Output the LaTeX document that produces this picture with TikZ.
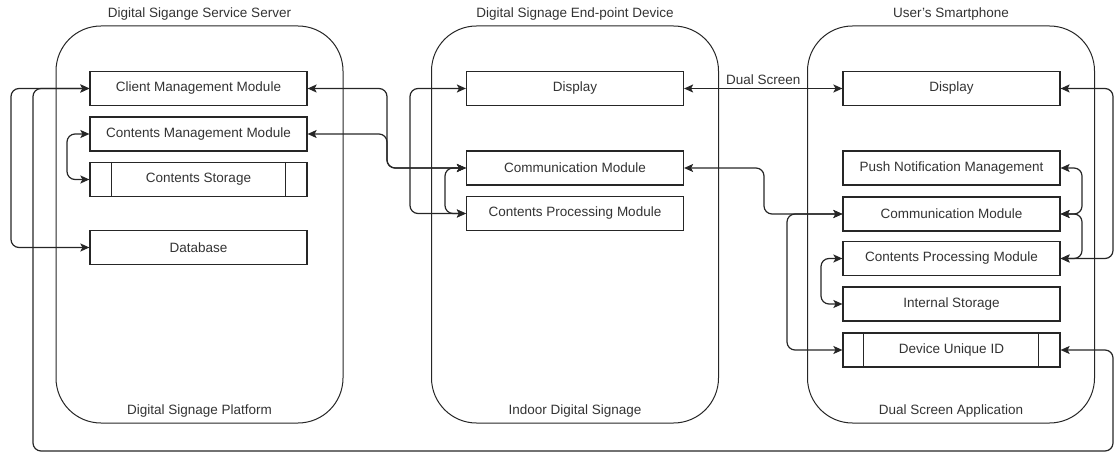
\documentclass[tikz,border=0pt]{standalone}
\usepackage{fontspec}
\setmainfont{Liberation Sans}
\usetikzlibrary{arrows.meta}
\begin{document}
\begin{tikzpicture}[x=1pt,y=-1pt,
  every node/.style={font=\fontsize{13.5}{15}\selectfont, text=black!80},
  modbox/.style={draw=black!85, line width=1.2pt, rectangle, minimum width=217pt, minimum height=34pt, inner sep=0pt, fill=white},
  container/.style={draw=black!85, line width=1pt, rectangle, rounded corners=45pt, minimum width=287pt, minimum height=397pt, inner sep=0pt},
  conn/.style={draw=black!85, line width=1.2pt, rounded corners=8pt, {Stealth[length=9pt,width=8pt,inset=2pt]}-{Stealth[length=9pt,width=8pt,inset=2pt]}},
  lbl/.style={inner sep=0pt}
]
\useasboundingbox (0,0) rectangle (1116,454);

% containers
\node[container] (cL) at (199.5,224.5) {};
\node[container] (cM) at (575,224.5) {};
\node[container] (cR) at (951,224.5) {};

\node[lbl] (tL) at (199.5,14) {Digital Sigange Service Server};
\node[lbl] (tM) at (575,14) {Digital Signage End-point Device};
\node[lbl] (tR) at (951,14) {User's Smartphone};
\node[lbl] (bL) at (199.5,411) {Digital Signage Platform};
\node[lbl] (bM) at (575,411) {Indoor Digital Signage};
\node[lbl] (bR) at (951,411) {Dual Screen Application};

% helper coordinates
\coordinate (xa) at (11,0);
\coordinate (xl) at (33,0);
\coordinate (xcs) at (67,0);
\coordinate (xm1) at (387,0);
\coordinate (xm2) at (410,0);
\coordinate (xm3) at (445,0);
\coordinate (xr1) at (764,0);
\coordinate (xr2) at (787,0);
\coordinate (xr3) at (821,0);
\coordinate (xr4) at (1082,0);
\coordinate (xr) at (1113,0);
\coordinate (yb) at (0,451);

% left modules
\node[modbox] (cmm) at (198.5,88.5) {Client Management Module};
\node[modbox] (ctm) at (198.5,134) {Contents Management Module};
\node[modbox] (cst) at (198.5,179.5) {Contents Storage};
\draw[black!85, line width=1.2pt] ([xshift=22pt]cst.north west) -- ([xshift=22pt]cst.south west)
  ([xshift=-22pt]cst.north east) -- ([xshift=-22pt]cst.south east);
\node[modbox] (db) at (198.5,247.5) {Database};

% middle modules
\node[modbox] (mdisp) at (575,88.5) {Display};
\node[modbox] (mcomm) at (575,168) {Communication Module};
\node[modbox] (mcpm) at (575,213.5) {Contents Processing Module};

% right modules
\node[modbox] (rdisp) at (951.5,88.5) {Display};
\node[modbox] (push) at (951.5,168) {Push Notification Management};
\node[modbox] (rcomm) at (951.5,214) {Communication Module};
\node[modbox] (rcpm) at (951.5,258.5) {Contents Processing Module};
\node[modbox] (ist) at (951.5,304) {Internal Storage};
\node[modbox] (duid) at (951.5,350) {Device Unique ID};
\draw[black!85, line width=1.2pt] ([xshift=21pt]duid.north west) -- ([xshift=21pt]duid.south west)
  ([xshift=-22pt]duid.north east) -- ([xshift=-22pt]duid.south east);

% connectors
\draw[conn] (cmm.west) -- (cmm.west -| xa) -- (db.west -| xa) -- (db.west);
\draw[conn] (duid.east) -- (duid.east -| xr) -- (xr |- yb) -- (xl |- yb) -- (cmm.west -| xl) -- (cmm.west);
\draw[conn] (ctm.west) -- (ctm.west -| xcs) -- (cst.west -| xcs) -- (cst.west);
\draw[conn] (cmm.east) -- (cmm.east -| xm1) -- (mcomm.west -| xm1) -- (mcomm.west);
\draw[conn] (ctm.east) -- (ctm.east -| xm1) -- (mcomm.west -| xm1) -- (mcomm.west);
\draw[conn] (mdisp.west) -- (mdisp.west -| xm2) -- (mcpm.west -| xm2) -- (mcpm.west);
\draw[conn] (mcomm.west) -- (mcomm.west -| xm3) -- (mcpm.west -| xm3) -- (mcpm.west);
\draw[conn] (mdisp.east) -- node[above=3pt, lbl] (ds) {Dual Screen} (rdisp.west);
\draw[conn] (mcomm.east) -- (mcomm.east -| xr1) -- (rcomm.west -| xr1) -- (rcomm.west);
\draw[conn] (rcomm.west) -- (rcomm.west -| xr2) -- (duid.west -| xr2) -- (duid.west);
\draw[conn] (rcpm.west) -- (rcpm.west -| xr3) -- (ist.west -| xr3) -- (ist.west);
\draw[conn] (rdisp.east) -- (rdisp.east -| xr) -- (rcpm.east -| xr) -- (rcpm.east);
\draw[conn] (push.east) -- (push.east -| xr4) -- (rcomm.east -| xr4) -- (rcomm.east);
\draw[conn] (rcomm.east) -- (rcomm.east -| xr4) -- (rcpm.east -| xr4) -- (rcpm.east);
\end{tikzpicture}
\end{document}
